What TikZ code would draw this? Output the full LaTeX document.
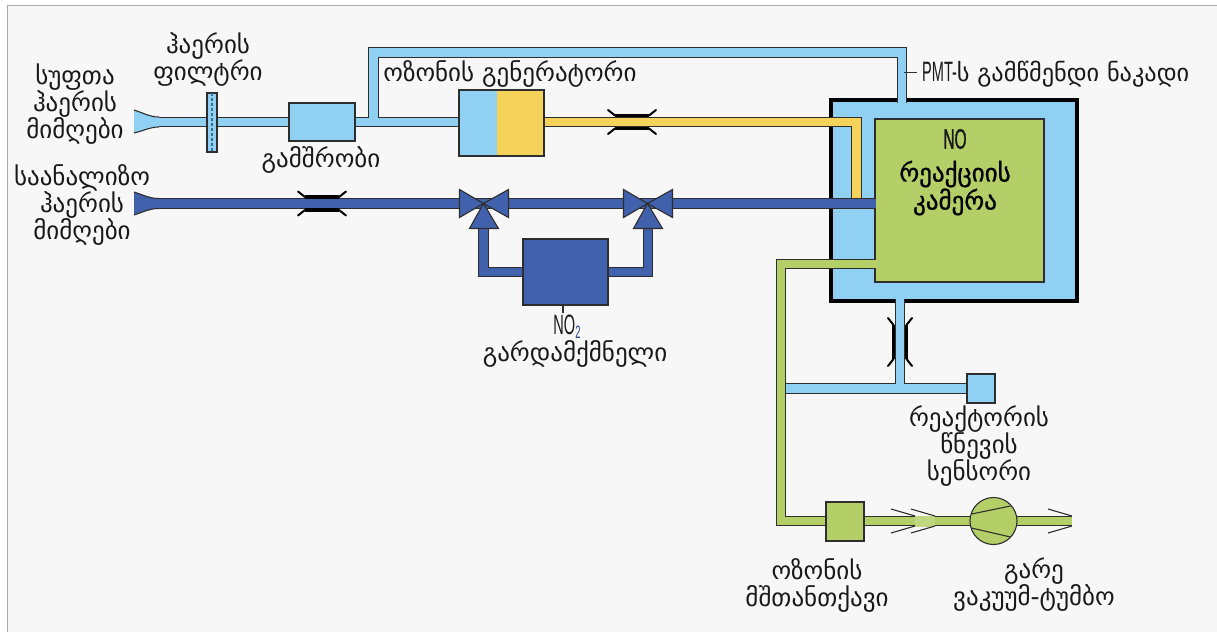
\documentclass[tikz,border=0pt]{standalone}
\usepackage{fontspec}
\setmainfont{DejaVu Sans}
\newfontfamily\geofont{DejaVu Sans}
\newfontfamily\geoheavy[FakeBold=1]{DejaVu Sans}
\newfontfamily\condfont[FakeStretch=0.52]{Liberation Sans}
\newfontfamily\condheavy[FakeStretch=0.55,FakeBold=1.2]{Liberation Sans}
\usetikzlibrary{calc}
\definecolor{lightpipe}{HTML}{90D0F3}
\definecolor{bluepipe}{HTML}{4161AD}
\definecolor{yellowpipe}{HTML}{F5D25A}
\definecolor{greenpipe}{HTML}{B5CF68}
\definecolor{edgedark}{HTML}{2E2E2E}
\definecolor{panel}{HTML}{F7F7F7}
\definecolor{framegray}{HTML}{A8A8A8}
\definecolor{subblue}{HTML}{2B3F8C}
\definecolor{filterdash}{HTML}{3A6E90}
\tikzset{
  pipe/.style={draw=edgedark,line width=1.1pt,double=#1,double distance=8.4pt,line join=miter},
  box/.style={draw=edgedark,line width=1.1pt,fill=#1,inner sep=0pt,outer sep=0pt},
  lbl/.style={font=\geofont\fontsize{25}{27}\selectfont,align=center,inner sep=0pt,text=black!90},
  heavylbl/.style={font=\geoheavy\fontsize{25}{28}\selectfont,align=center,inner sep=0pt,text=black},
  condlbl/.style={font=\condfont\fontsize{28}{28}\selectfont,inner sep=0pt,text=black!90},
  restrictor/.pic={
    \draw[line width=2pt,line cap=round] (-24,-12) -- (-17,-6.5) (17,-6.5) -- (24,-12) (-24,12) -- (-17,6.5) (17,6.5) -- (24,12);
    \draw[line width=3.2pt] (-17,-6.5) -- (17,-6.5) (-17,6.5) -- (17,6.5);
  },
  valve/.pic={
    \draw[fill=bluepipe,draw=edgedark,line width=1.1pt,line join=miter] (-24,-14) -- (-24,14) -- (0,0) -- cycle;
    \draw[fill=bluepipe,draw=edgedark,line width=1.1pt,line join=miter] (25,-14) -- (25,14) -- (0,0) -- cycle;
    \draw[fill=bluepipe,draw=edgedark,line width=1.1pt,line join=miter] (-14,25) -- (15,25) -- (0,0) -- cycle;
  },
  chevron/.pic={
    \draw[edgedark,line width=1.1pt] (-24,-12) -- (0,-5) (-24,12) -- (0,5);
  }
}
\begin{document}
\begin{tikzpicture}[x=1pt,y=-1pt]
\useasboundingbox (0,0) rectangle (1217,632);
\fill[white] (0,0) rectangle (1217,632);
\fill[panel] (7,5) rectangle (1217,632);
\draw[framegray,line width=1pt] (7.5,632) -- (7.5,5.5) -- (1217,5.5);

% chamber
\node[box=lightpipe,draw=black,line width=4pt,minimum width=246pt,minimum height=201pt] (chamber) at (954,200.5) {};

% named junctions
\coordinate (cleanTip) at (158,122);
\coordinate (branch) at (373.5,122);
\coordinate (topLeft) at (373.5,52.5);
\coordinate (topRight) at (902,52.5);
\coordinate (chamberTop) at (902,103);
\coordinate (chamberBot) at (900,299);
\coordinate (sensorT) at (900,388.5);
\coordinate (greenT) at (784,388.5);
\coordinate (ozoneIn) at (460,122);
\coordinate (ozoneOut) at (544,122);
\coordinate (yellowCorner) at (856.5,122);
\coordinate (yellowEnd) at (856.5,200);
\coordinate (sampleTip) at (158,203.5);
\coordinate (valveA) at (483.5,203.5);
\coordinate (valveB) at (647.5,203.5);
\coordinate (chamberIn) at (876,203.5);
\coordinate (convL) at (523,272);
\coordinate (convLc) at (483.5,272);
\coordinate (valveAb) at (483.5,228);
\coordinate (convR) at (608,272);
\coordinate (convRc) at (648,272);
\coordinate (valveBb) at (648,228);
\coordinate (greenStart) at (876,264);
\coordinate (greenC1) at (781,264);
\coordinate (greenC2) at (781,521);
\coordinate (greenEnd) at (1072,521);
\coordinate (pmtTickA) at (904,72);
\coordinate (pmtTickB) at (917,72);

% reaction cell
\node[box=greenpipe,minimum width=169pt,minimum height=163pt] (cell) at (959.5,200.5) {};

% light pipes
\draw[pipe=lightpipe] (cleanTip) -- (ozoneIn) (branch) -- (topLeft) -- (topRight) -- (chamberTop)
  (chamberBot) -- (sensorT) (greenT) -- (970,388.5);
% yellow pipe
\draw[pipe=yellowpipe] (ozoneOut) -- (yellowCorner) -- (yellowEnd);
% blue pipes
\draw[pipe=bluepipe] (sampleTip) -- (chamberIn);
\draw[pipe=bluepipe] (convL) -- (convLc) -- (valveAb);
\draw[pipe=bluepipe] (convR) -- (convRc) -- (valveBb);
% green pipe
\draw[pipe=greenpipe] (greenStart) -- (greenC1) -- (greenC2) -- (greenEnd);
\fill[greenpipe!85!white] (915,515.5) rectangle (935,526.5);

% inlets
\filldraw[fill=lightpipe,draw=none] (134,110) .. controls (146,114) and (150,117) .. (159,117) -- (159,127) .. controls (150,127) and (146,130) .. (134,133) -- cycle;
\draw[edgedark,line width=1.1pt] (134,110) .. controls (146,114) and (150,117) .. (159,117) (159,127) .. controls (150,127) and (146,130) .. (134,133);
\filldraw[fill=bluepipe,draw=none] (134,192) .. controls (146,196) and (150,198.5) .. (159,198.5) -- (159,208.5) .. controls (150,208.5) and (146,211) .. (134,215) -- cycle;
\draw[edgedark,line width=1.1pt] (134,192) .. controls (146,196) and (150,198.5) .. (159,198.5) (159,208.5) .. controls (150,208.5) and (146,211) .. (134,215);

% filter
\node[box=lightpipe,line width=1.4pt,minimum width=10pt,minimum height=59pt] (filter) at (212,122.5) {};
\draw[filterdash,line width=2pt,dash pattern=on 3pt off 2pt] (filter.north) -- (filter.south);

% drier
\node[box=lightpipe,minimum width=66pt,minimum height=38pt] (drier) at (322,122) {};

% ozone generator
\node[box=lightpipe,draw=none,minimum width=38pt,minimum height=66pt] (ozA) at (478,123) {};
\node[box=yellowpipe,draw=none,minimum width=47pt,minimum height=66pt] (ozB) at (520.5,123) {};
\node[draw=edgedark,line width=1.1pt,inner sep=0pt,minimum width=85pt,minimum height=66pt] (ozone) at (501.5,123) {};

% restrictors
\pic at (322,203.5) {restrictor};
\pic at (632,122) {restrictor};
\pic[rotate=90] at (900,342) {restrictor};

% valves
\pic at (valveA) {valve};
\pic at (valveB) {valve};

% converter
\node[box=bluepipe,minimum width=85pt,minimum height=66pt] (conv) at (565.5,272) {};
\coordinate (convTick) at (563,313);
\draw[edgedark,line width=1.3pt] (conv.south -| convTick) -- (convTick);

% sensor
\node[box=lightpipe,minimum width=28pt,minimum height=29pt] (sensor) at (981,388.5) {};

% absorber
\node[box=greenpipe,minimum width=38pt,minimum height=39pt] (absorber) at (845,521.5) {};

% pump
\node[box=greenpipe,circle,minimum size=47pt] (pump) at (993.5,521) {};
\draw[edgedark,line width=1.1pt] ($(pump)+(-22,-7)$) -- ($(pump)+(17,-15)$) ($(pump)+(-22,7)$) -- ($(pump)+(17,16)$);

% chevrons
\pic at (915,521) {chevron};
\pic at (935,521) {chevron};
\pic at (1072,521) {chevron};

% PMT tick
\draw[edgedark,line width=1pt] (pmtTickA) -- (pmtTickB);

% labels
\node[lbl] (lFilter) at (208,59) {ჰაერის\\ფილტრი};
\node[lbl] (lClean) at (75,104) {სუფთა\\ჰაერის\\მიმღები};
\node[lbl] (lSample) at (82,205) {საანალიზო\\ჰაერის\\მიმღები};
\node[lbl] (lDrier) at (321,160) {გამშრობი};
\node[lbl] (lOzone) at (510,74) {ოზონის გენერატორი};
\node[condlbl] (lNOtwo) at (567,327) {NO\raisebox{-4pt}{\fontsize{18}{18}\selectfont\textcolor{subblue}{2}}};
\node[lbl] (lConv) at (575,354) {გარდამქმნელი};
\node[lbl,anchor=west,font=\geofont\fontsize{24.3}{27}\selectfont] (lPmt) at (922,74) {{\condfont\fontsize{28}{28}\selectfont PMT-}ს გამწმენდი ნაკადი};
\node[condlbl,font=\condheavy\fontsize{28}{28}\selectfont] (lNO) at (955,139) {NO};
\node[heavylbl] (lCell) at (955,188) {რეაქციის\\კამერა};
\node[lbl] (lSensor) at (979,446) {რეაქტორის\\წნევის\\სენსორი};
\node[lbl] (lAbs) at (817,585) {ოზონის\\მშთანთქავი};
\node[lbl] (lPump) at (1034,585) {გარე\\ვაკუუმ-ტუმბო};
\end{tikzpicture}
\end{document}
